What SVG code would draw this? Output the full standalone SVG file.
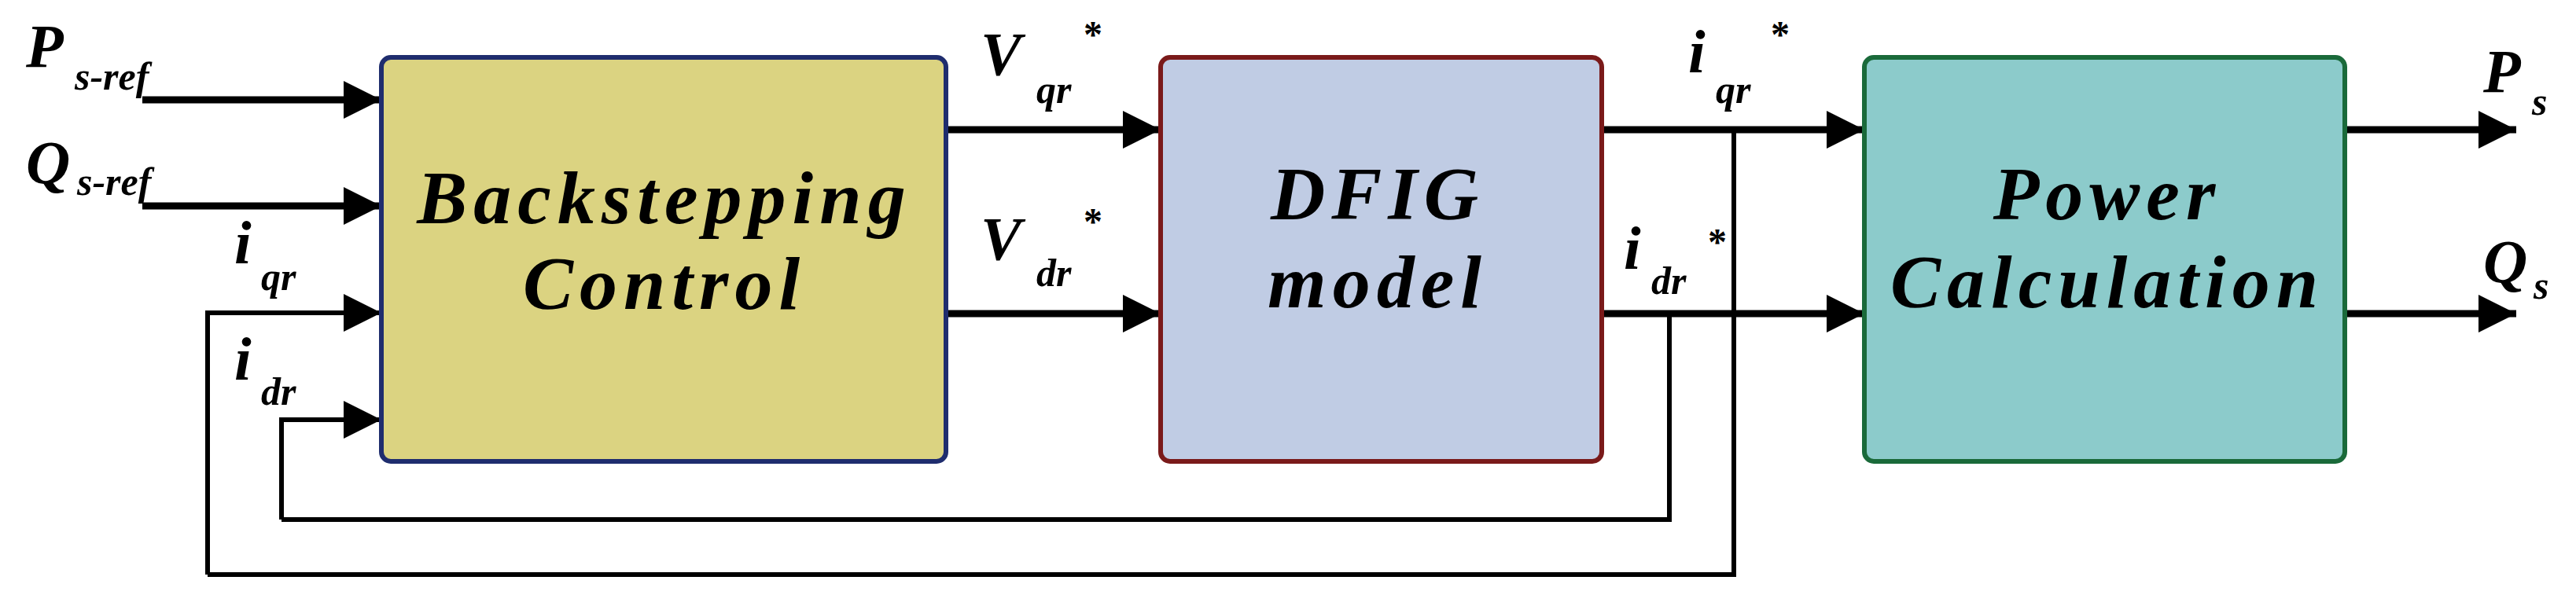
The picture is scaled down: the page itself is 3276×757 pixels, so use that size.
<svg xmlns="http://www.w3.org/2000/svg" width="3276" height="757" viewBox="0 0 3276 757">
<defs>
<style>
text{font-family:"Liberation Serif",serif;font-style:italic;font-weight:bold;fill:#000}
.big{font-size:96px;letter-spacing:8px}
.v{font-size:78px}
.sub{font-size:50px}
.ast{font-size:48px;font-style:normal}
.w{stroke:#000;stroke-width:9;fill:none}
.f{stroke:#000;stroke-width:6;fill:none}
</style>
<marker id="ah" viewBox="0 0 48 48" refX="48" refY="24" markerWidth="48" markerHeight="48" markerUnits="userSpaceOnUse" orient="auto"><path d="M0,0L48,24L0,48z" fill="#000"/></marker>
</defs>
<rect width="3276" height="757" fill="#fff"/>
<g id="connectors">
<path class="w" d="M181,127H485" marker-end="url(#ah)"/>
<path class="w" d="M181,262H485" marker-end="url(#ah)"/>
<path class="f" d="M264,731V398H485" marker-end="url(#ah)"/>
<path class="f" d="M358,661V534H485" marker-end="url(#ah)"/>
<path class="w" d="M1205,165H1476" marker-end="url(#ah)"/>
<path class="w" d="M1205,399H1476" marker-end="url(#ah)"/>
<path class="w" d="M2037,165H2371" marker-end="url(#ah)"/>
<path class="w" d="M2037,399H2371" marker-end="url(#ah)"/>
<path class="f" d="M2205,165V731H264"/>
<path class="f" d="M2123,399V661H358"/>
<path class="w" d="M2982,165H3200" marker-end="url(#ah)"/>
<path class="w" d="M2982,399H3200" marker-end="url(#ah)"/>
</g>
<g id="backstepping">
<rect x="485" y="73" width="718" height="514" rx="12" fill="#dbd381" stroke="#1f2d6e" stroke-width="6"/>
<text class="big" x="845" y="284" text-anchor="middle">Backstepping</text>
<text class="big" x="845" y="393" text-anchor="middle">Control</text>
</g>
<g id="dfig">
<rect x="1476" y="73" width="561" height="514" rx="12" fill="#c0cce4" stroke="#7a1a1a" stroke-width="6"/>
<text class="big" x="1752" y="279" text-anchor="middle">DFIG</text>
<text class="big" x="1752" y="391" text-anchor="middle">model</text>
</g>
<g id="power">
<rect x="2371" y="73" width="611" height="514" rx="12" fill="#8ccbcb" stroke="#1a6a3a" stroke-width="6"/>
<text class="big" x="2680" y="279" text-anchor="middle">Power</text>
<text class="big" x="2680" y="391" text-anchor="middle">Calculation</text>
</g>
<g id="labels">
<text class="v" x="33" y="85">P</text><text class="sub" x="95" y="114">s-ref</text>
<text class="v" x="33" y="233">Q</text><text class="sub" x="98" y="248">s-ref</text>
<text class="v" x="298" y="335">i</text><text class="sub" x="332" y="369">qr</text>
<text class="v" x="298" y="483">i</text><text class="sub" x="332" y="515">dr</text>
<text class="v" x="1247" y="95">V</text><text class="sub" x="1318" y="131">qr</text><text class="ast" x="1378" y="60">*</text>
<text class="v" x="1247" y="330">V</text><text class="sub" x="1318" y="364">dr</text><text class="ast" x="1378" y="298">*</text>
<text class="v" x="2147" y="92">i</text><text class="sub" x="2182" y="131">qr</text><text class="ast" x="2252" y="60">*</text>
<text class="v" x="2065" y="342">i</text><text class="sub" x="2100" y="374">dr</text><text class="ast" x="2172" y="324">*</text>
<text class="v" x="3158" y="117">P</text><text class="sub" x="3220" y="146">s</text>
<text class="v" x="3158" y="359">Q</text><text class="sub" x="3222" y="380">s</text>
</g>
</svg>
